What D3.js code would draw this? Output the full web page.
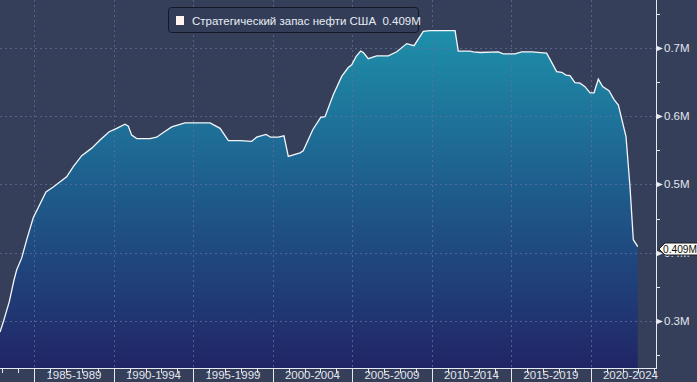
<!DOCTYPE html>
<html><head><meta charset="utf-8">
<script src="https://cdn.jsdelivr.net/npm/d3@7"></script>
<style>html,body{margin:0;padding:0;background:#353f5a;}svg{display:block;}</style>
</head><body>
<script>
const seriesName = "Стратегический запас нефти США";
const lastLabel = "0.409M";
const years = [1982.85,1983.06,1983.43,1983.73,1983.90,1984.21,1984.53,1984.94,1985.74,1986.20,1987.04,1987.46,1987.99,1988.62,1989.14,1989.72,1990.19,1990.71,1990.92,1991.13,1991.45,1992.28,1992.70,1993.12,1993.65,1994.48,1996.06,1996.69,1997.21,1997.94,1998.68,1998.99,1999.58,1999.87,2000.35,2000.71,2000.98,2001.72,2001.92,2002.52,2003.02,2003.29,2003.81,2004.34,2004.75,2004.97,2005.24,2005.53,2005.70,2006.01,2006.54,2007.27,2007.80,2008.43,2008.89,2009.47,2009.89,2011.47,2011.67,2012.41,2012.62,2013.04,2014.19,2014.50,2015.24,2015.66,2016.29,2017.23,2017.86,2018.18,2018.45,2018.70,2019.01,2019.33,2019.64,2019.96,2020.21,2020.48,2020.75,2021.15,2021.47,2021.74,2022.22,2022.47,2022.68,2022.96];
const values = [0.284,0.299,0.328,0.360,0.375,0.392,0.419,0.451,0.489,0.496,0.511,0.526,0.542,0.553,0.565,0.577,0.582,0.588,0.585,0.572,0.567,0.567,0.569,0.576,0.584,0.590,0.590,0.582,0.564,0.564,0.563,0.569,0.573,0.569,0.569,0.571,0.541,0.546,0.549,0.580,0.598,0.599,0.631,0.658,0.671,0.675,0.687,0.695,0.693,0.684,0.688,0.688,0.694,0.706,0.703,0.724,0.725,0.725,0.695,0.695,0.694,0.693,0.694,0.691,0.691,0.694,0.694,0.692,0.665,0.664,0.660,0.659,0.649,0.648,0.643,0.634,0.634,0.654,0.643,0.637,0.624,0.616,0.570,0.497,0.419,0.409];
const periodStarts = [1985,1990,1995,2000,2005,2010,2015,2020];
const periodLabels = ["1985-1989","1990-1994","1995-1999","2000-2004","2005-2009","2010-2014","2015-2019","2020-2024"];
const yTicks = [0.3,0.4,0.5,0.6,0.7];
const yMinorTicks = [0.25,0.35,0.45,0.55,0.65,0.75];
const yearTicks = d3.range(1983, 2025);

const W = 697, H = 382;
const axisX = 656, axisY = 368;
const x = d3.scaleLinear().domain([1985, 2020]).range([34.2, 590.7]);
const y = d3.scaleLinear().domain([0.3, 0.7]).range([321, 47.7]);
const data = years.map((t, i) => ({t, v: values[i]}));

const svg = d3.select("body").append("svg").attr("width", W).attr("height", H);
svg.append("rect").attr("width", W).attr("height", H).attr("fill", "#353f5a");

const defs = svg.append("defs");
const grad = defs.append("linearGradient").attr("id", "g").attr("gradientUnits", "userSpaceOnUse")
  .attr("x1", 0).attr("x2", 0).attr("y1", 28).attr("y2", axisY);
grad.append("stop").attr("offset", 0).attr("stop-color", "#1e90aa");
grad.append("stop").attr("offset", 0.45).attr("stop-color", "#1e5f8e");
grad.append("stop").attr("offset", 1).attr("stop-color", "#212566");

// area
svg.append("path").datum(data)
  .attr("d", d3.area().x(d => x(d.t)).y0(axisY).y1(d => y(d.v)))
  .attr("fill", "url(#g)");

// grid
const grid = svg.append("g").attr("stroke", "#62719a").attr("stroke-width", 1).attr("stroke-dasharray", "2,3").attr("opacity", 0.75);
grid.selectAll("line.h").data(yTicks).join("line")
  .attr("x1", 0).attr("x2", axisX).attr("y1", d => Math.round(y(d)) + 0.5).attr("y2", d => Math.round(y(d)) + 0.5);
grid.selectAll("line.v").data(periodStarts).join("line")
  .attr("x1", d => Math.round(x(d)) + 0.5).attr("x2", d => Math.round(x(d)) + 0.5).attr("y1", 0).attr("y2", axisY);

// line
svg.append("path").datum(data)
  .attr("d", d3.line().x(d => x(d.t)).y(d => y(d.v)))
  .attr("fill", "none").attr("stroke", "#f4f6fa").attr("stroke-width", 1.3);

// bottom axis
const ax = svg.append("g").attr("stroke", "#e6e9f0").attr("stroke-width", 1);
ax.append("line").attr("x1", 0).attr("x2", axisX).attr("y1", axisY + 0.5).attr("y2", axisY + 0.5);
ax.selectAll("line.mt").data(yearTicks.filter(t => !periodStarts.includes(t))).join("line")
  .attr("x1", d => Math.round(x(d)) + 0.5).attr("x2", d => Math.round(x(d)) + 0.5)
  .attr("y1", axisY).attr("y2", axisY + 5);
ax.selectAll("line.Mt").data(periodStarts).join("line")
  .attr("x1", d => Math.round(x(d)) + 0.5).attr("x2", d => Math.round(x(d)) + 0.5)
  .attr("y1", axisY).attr("y2", H);
svg.append("g").selectAll("text").data(periodStarts).join("text")
  .attr("x", (d, i) => (x(d) + x(d + 5)) / 2).attr("y", 379)
  .attr("text-anchor", "middle").attr("fill", "#e2e6ee")
  .attr("font-family", "Liberation Sans, Arial, sans-serif").attr("font-size", 11.5)
  .text((d, i) => periodLabels[i]);

// right axis
const ry = svg.append("g");
ry.append("line").attr("x1", axisX + 0.5).attr("x2", axisX + 0.5).attr("y1", 0).attr("y2", axisY + 1)
  .attr("stroke", "#e6e9f0");
ry.selectAll("line.m").data(yMinorTicks).join("line")
  .attr("x1", axisX).attr("x2", axisX + 4).attr("y1", d => Math.round(y(d)) + 0.5).attr("y2", d => Math.round(y(d)) + 0.5)
  .attr("stroke", "#e6e9f0");
ry.selectAll("path.tri").data(yTicks).join("path")
  .attr("d", d => { const yy = Math.round(y(d)) + 0.5; return `M${axisX},${yy - 3}L${axisX + 7},${yy}L${axisX},${yy + 3}Z`; })
  .attr("fill", "#e6e9f0");
ry.selectAll("text").data(yTicks).join("text")
  .attr("x", axisX + 8).attr("y", d => y(d) + 4)
  .attr("fill", "#e2e6ee").attr("font-family", "Liberation Sans, Arial, sans-serif").attr("font-size", 11.5)
  .text(d => d.toFixed(1) + "M");

// last value label
const ly = y(values[values.length - 1]) + 2.5;
svg.append("path")
  .attr("d", `M${axisX + 3},${ly}L${axisX + 9},${ly - 6}L${W + 2},${ly - 6}L${W + 2},${ly + 6}L${axisX + 9},${ly + 6}Z`)
  .attr("fill", "#fbfbf6").attr("stroke", "#1a1d26").attr("stroke-width", 1);
svg.append("text").attr("x", axisX + 7).attr("y", ly + 4)
  .attr("fill", "#111").attr("font-family", "Liberation Sans, Arial, sans-serif").attr("font-size", 10.2)
  .text(lastLabel);

// legend
const lg = svg.append("g");
lg.append("rect").attr("x", 168.5).attr("y", 7.5).attr("width", 250).attr("height", 25).attr("rx", 3)
  .attr("fill", "#333d58").attr("stroke", "#141824");
lg.append("rect").attr("x", 176).attr("y", 16).attr("width", 8).attr("height", 9).attr("fill", "#fff4f0");
lg.append("text").attr("x", 192).attr("y", 25)
  .attr("fill", "#e8ecf4").attr("font-family", "Liberation Sans, Arial, sans-serif").attr("font-size", 11.5)
  .attr("xml:space", "preserve")
  .text(seriesName + "  " + lastLabel);
</script>
</body></html>
